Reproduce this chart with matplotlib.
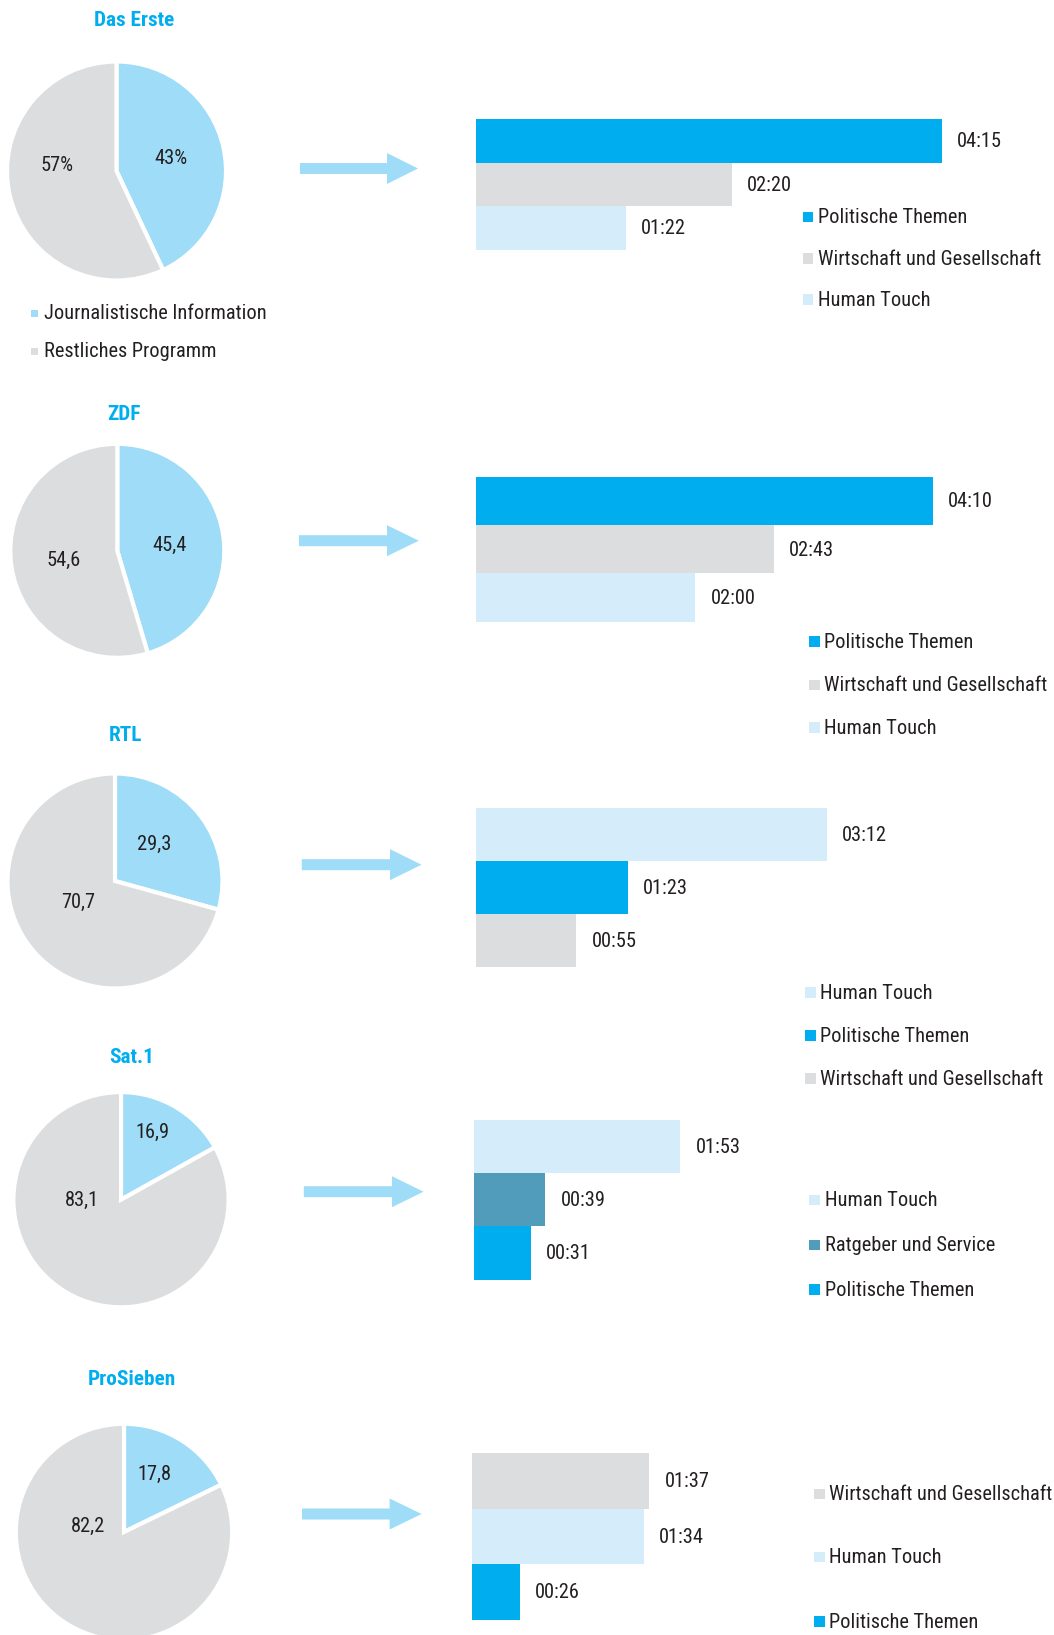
import matplotlib
matplotlib.use("Agg")
import matplotlib.pyplot as plt
from matplotlib import font_manager
from matplotlib.font_manager import FontProperties
from matplotlib.patches import Rectangle, FancyArrow

# ---------------- data ----------------
channels = ["Das Erste", "ZDF", "RTL", "Sat.1", "ProSieben"]
pie_categories = ["Journalistische Information", "Restliches Programm"]
pie_info = [43.0, 45.4, 29.3, 16.9, 17.8]
pie_rest = [57.0, 54.6, 70.7, 83.1, 82.2]
pie_info_labels = ["43%", "45,4", "29,3", "16,9", "17,8"]
pie_rest_labels = ["57%", "54,6", "70,7", "83,1", "82,2"]

bar_categories = [
    ["Politische Themen", "Wirtschaft und Gesellschaft", "Human Touch"],
    ["Politische Themen", "Wirtschaft und Gesellschaft", "Human Touch"],
    ["Human Touch", "Politische Themen", "Wirtschaft und Gesellschaft"],
    ["Human Touch", "Ratgeber und Service", "Politische Themen"],
    ["Wirtschaft und Gesellschaft", "Human Touch", "Politische Themen"],
]
bar_times = [
    ["04:15", "02:20", "01:22"],
    ["04:10", "02:43", "02:00"],
    ["03:12", "01:23", "00:55"],
    ["01:53", "00:39", "00:31"],
    ["01:37", "01:34", "00:26"],
]

# ---------------- styles ----------------
C_PIE_INFO = "#9fdcf7"
C_GRAY = "#dcdddf"
C_TITLE = "#00aeef"
C_TEXT = "#231f20"
cat_colors = {
    "Politische Themen": "#00aeef",
    "Wirtschaft und Gesellschaft": "#dcdddf",
    "Human Touch": "#d5edfa",
    "Ratgeber und Service": "#529cbb",
}

W, H, DPI = 1054, 1635, 100
PX_PER_SEC = 1.828

# pick a narrow font if one is installed
_names = {f.name for f in font_manager.fontManager.ttflist}
STRETCH = "normal"
FAMILY = None
for cand in ["Liberation Sans Narrow", "Roboto Condensed", "Open Sans Condensed",
             "DejaVu Sans Condensed", "Noto Sans Display"]:
    if cand in _names:
        FAMILY = cand
        break
if FAMILY is None:
    for f in font_manager.fontManager.ttflist:
        if f.name == "DejaVu Sans" and "Condensed" in f.fname and "Bold" not in f.fname \
                and "Oblique" not in f.fname:
            FAMILY, STRETCH = "DejaVu Sans", "condensed"
            break
if FAMILY is None:
    FAMILY = "Liberation Sans" if "Liberation Sans" in _names else "DejaVu Sans"
FONT = [FAMILY, "DejaVu Sans"]
plt.rcParams["font.family"] = FONT
plt.rcParams["font.stretch"] = STRETCH

# layout (pixels, y from top)
pie_layout = [(116.5, 171, 109.5), (117.3, 550.8, 107), (115, 881, 107.5),
              (121, 1199.7, 107.6), (124, 1532, 108.2)]
info_lbl_pos = [(0.498, 0.11), (0.487, 0.054), (0.368, 0.344), (0.294, 0.623), (0.277, 0.536)]
rest_lbl_pos = [(-0.543, 0.046), (-0.506, -0.086), (-0.339, -0.202), (-0.362, -0.003), (-0.33, 0.049)]
title_pos = [(134, 20), (123.7, 414), (125.4, 735), (132, 1057), (131.8, 1379)]
arrow_layout = [(300, 418, 387, 168.5), (299, 418.8, 387, 540.7), (301.8, 421.5, 390, 864.7),
                (303.8, 423.5, 392, 1191.7), (302, 421.7, 389.6, 1514)]
bar_layout = [(475.9, 119, 43.6), (475.9, 477, 48.2), (475.9, 808, 53),
              (473.9, 1120, 53.2), (472, 1453, 55.5)]
legend_layout = [(802.5, 818, [217, 258.5, 299.3]),
                 (809.3, 824, [641.7, 685, 727.7]),
                 (805.3, 820, [992.7, 1035.3, 1078.3]),
                 (809.3, 825, [1200, 1245, 1289.3]),
                 (814, 829, [1494, 1557, 1621.7])]
pie_legend_layout = (31, 44, [313, 351], 7)
TEXT_DY = 0.8  # small downward nudge of texts, pixels

fig = plt.figure(figsize=(W / DPI, H / DPI), dpi=DPI)
fig.patch.set_facecolor("white")

# size fonts so that reference widths are matched
_r = fig.canvas.get_renderer()
def _width(s, weight="normal"):
    fp = FontProperties(family=FONT, stretch=STRETCH, weight=weight, size=10)
    w, h, d = _r.get_text_width_height_descent(s, fp, ismath=False)
    return w
FS = 1.03 * 10 * 215.0 / _width("Wirtschaft und Gesellschaft")
FS_T = 1.03 * 10 * 78.0 / _width("Das Erste", "bold")


def px_axes(x, y, w, h, **kw):
    return fig.add_axes([x / W, 1 - (y + h) / H, w / W, h / H], **kw)


def to_sec(s):
    m, ss = s.split(":")
    return int(m) * 60 + int(ss)


# pies
for i in range(len(channels)):
    cx, cy, r = pie_layout[i]
    R = r + 1.5
    ax = px_axes(cx - R, cy - R, 2 * R, 2 * R)
    ax.pie([pie_info[i], pie_rest[i]], colors=[C_PIE_INFO, C_GRAY], startangle=90,
           counterclock=False, radius=1,
           wedgeprops=dict(edgecolor="white", linewidth=3))
    lim = R / r
    ax.set_xlim(-lim, lim)
    ax.set_ylim(-lim, lim)
    ax.set_aspect("equal")
    ax.axis("off")
    ax.text(*info_lbl_pos[i], pie_info_labels[i], ha="center", va="center",
            fontsize=FS, color=C_TEXT)
    ax.text(*rest_lbl_pos[i], pie_rest_labels[i], ha="center", va="center",
            fontsize=FS, color=C_TEXT)

# bars
BAR_AX_W = 560
for i in range(len(channels)):
    x0, top, bh = bar_layout[i]
    ax = px_axes(x0, top, BAR_AX_W, 3 * bh)
    vals = [to_sec(t) for t in bar_times[i]]
    cols = [cat_colors[c] for c in bar_categories[i]]
    ypos = list(range(len(vals)))
    ax.barh(ypos, vals, height=1.0, color=cols, linewidth=0)
    ax.set_xlim(0, BAR_AX_W / PX_PER_SEC)
    ax.set_ylim(len(vals) - 0.5, -0.5)
    ax.axis("off")
    for yv, v, t in zip(ypos, vals, bar_times[i]):
        ax.annotate(t, xy=(v, yv), xytext=(11, -TEXT_DY * 0.72), textcoords="offset points",
                    ha="left", va="center", fontsize=FS, color=C_TEXT,
                    annotation_clip=False)

# overlay: titles, arrows, legends
ov = fig.add_axes([0, 0, 1, 1], zorder=10)
ov.set_xlim(0, W)
ov.set_ylim(H, 0)
ov.axis("off")
ov.patch.set_alpha(0)

for i, name in enumerate(channels):
    tx, ty = title_pos[i]
    ov.text(tx, ty, name, ha="center", va="center", fontsize=FS_T, fontweight="bold",
            color=C_TITLE)
    ax0, ax1, hs, ay = arrow_layout[i]
    ov.add_patch(FancyArrow(ax0, ay, ax1 - ax0, 0, width=11, head_width=31,
                            head_length=ax1 - hs, length_includes_head=True,
                            color=C_PIE_INFO, lw=0))
    sqx, txx, rows = legend_layout[i]
    for cat, ry in zip(bar_categories[i], rows):
        ov.add_patch(Rectangle((sqx, ry - 5.3), 10.6, 10.6, color=cat_colors[cat], lw=0))
        ov.text(txx, ry + TEXT_DY, cat, ha="left", va="center", fontsize=FS, color=C_TEXT)

sqx, txx, rows, sq = pie_legend_layout
for cat, col, ry in zip(pie_categories, [C_PIE_INFO, C_GRAY], rows):
    ov.add_patch(Rectangle((sqx, ry - sq / 2), sq, sq, color=col, lw=0))
    ov.text(txx, ry + TEXT_DY, cat, ha="left", va="center", fontsize=FS, color=C_TEXT)

fig.savefig("out.png", dpi=DPI, facecolor="white")
